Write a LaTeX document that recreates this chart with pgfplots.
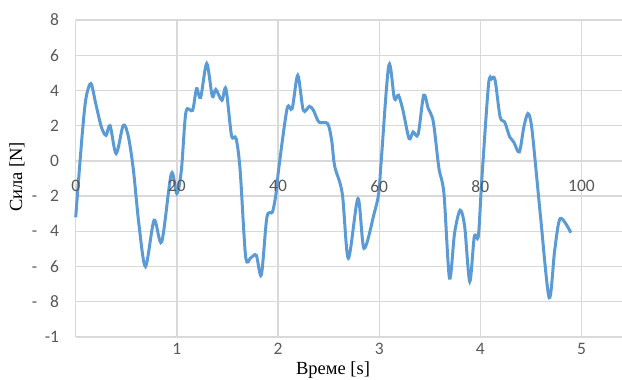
\documentclass[border=0pt]{standalone}
\usepackage{pgfplots}
\pgfplotsset{compat=1.18}
\usepackage{fontspec}
\setmainfont{Carlito}
\newfontfamily\lserif{Liberation Serif}
\definecolor{serieblue}{RGB}{91,155,213}
\definecolor{tickgray}{RGB}{89,89,89}
\definecolor{gridc}{RGB}{217,217,217}
\newcommand{\tfont}{\fontsize{17.5}{20}\selectfont}
\begin{document}
\begin{tikzpicture}
\begin{axis}[
  scale only axis, width=546.3pt, height=317pt,
  xmin=0, xmax=108, ymin=-10, ymax=8,
  axis lines=left, axis line style={-, draw=gridc, line width=1.3pt},
  grid=major, major grid style={draw=gridc, line width=1.3pt},
  xtick={20,40,60,80,100}, xticklabels={1,2,3,4,5},
  ytick={-10,-8,-6,-4,-2,0,2,4,6,8},
  yticklabels={-1,{-\hspace{13pt}8},{-\hspace{13pt}6},{-\hspace{13pt}4},{-\hspace{13pt}2},0,2,4,6,8},
  major tick length=0pt,
  tick label style={font=\tfont, text=tickgray, inner sep=0pt},
  xticklabel style={anchor=north, yshift=-6pt},
  yticklabel style={anchor=east, xshift=-16.4pt},
  clip=false,
]
\addplot[serieblue, line width=3pt, smooth, tension=0.5] coordinates {
(0,-3.2) (1.2,1.2) (2,3.5) (3,4.39) (4,3.2) (5.1,1.9) (6,1.45) (6.8,2.0) (8.0,0.41)
(9.4,2.02) (10.4,1.4) (11.4,-0.5) (12.5,-3.6) (13.8,-6.0) (15.5,-3.37) (17.0,-4.6)
(18.9,-0.73) (20.0,-1.86) (20.9,-0.5) (21.8,2.78) (23.1,2.87) (23.9,4.1) (24.7,3.6)
(25.9,5.53) (27.0,3.67) (27.7,4.05) (28.9,3.44) (29.7,4.1) (30.8,1.45) (31.7,1.27)
(32.5,-0.5) (33.6,-5.44) (34.6,-5.5) (35.7,-5.36) (36.7,-6.47) (37.8,-3.2) (38.9,-2.9)
(39.6,-1.86) (40.2,-0.3) (41.8,2.97) (42.8,2.97) (43.9,4.86) (45.0,2.87) (46.2,3.1)
(47.0,2.87) (48.1,2.2) (49.8,2.12) (50.6,1.17) (51.2,-0.3) (52.7,-1.86) (53.9,-5.53)
(55.8,-2.14) (57.0,-4.97) (59.0,-2.99) (59.9,-1.86) (60.4,0) (61.9,5.43) (63.0,3.54)
(63.8,3.73) (64.7,2.87) (65.9,1.27) (66.7,1.64) (67.7,1.51) (68.8,3.73) (69.7,2.97)
(70.7,2.21) (71.8,-0.4) (72.8,-1.86) (73.9,-6.66) (74.9,-4.1) (76.0,-2.8) (76.9,-3.74)
(77.9,-6.85) (78.8,-4.3) (79.6,-4.27) (80.3,-1.0) (81.6,4.3) (82.2,4.65) (82.9,4.6) (83.9,2.5)
(84.8,2.21) (85.8,1.36) (86.6,1.07) (87.7,0.51) (88.6,1.93) (89.4,2.69) (90.1,2.02)
(91.0,-0.5) (91.9,-3.18) (93.6,-7.77) (94.7,-5.06) (95.8,-3.27) (97.9,-4.08)
};
\node[anchor=north, inner sep=0pt, font=\tfont, text=tickgray, yshift=-19.4pt] at (axis cs:0,0) {0};
\node[anchor=north, inner sep=0pt, font=\tfont, text=tickgray, yshift=-19.4pt] at (axis cs:20,0) {20};
\node[anchor=north, inner sep=0pt, font=\tfont, text=tickgray, yshift=-19.4pt] at (axis cs:40,0) {40};
\node[anchor=north, inner sep=0pt, font=\tfont, text=tickgray, yshift=-19.4pt] at (axis cs:60,0) {60};
\node[anchor=north, inner sep=0pt, font=\tfont, text=tickgray, yshift=-19.4pt] at (axis cs:80,0) {80};
\node[anchor=north, inner sep=0pt, font=\tfont, text=tickgray, yshift=-19.4pt] at (axis cs:100,0) {100};
\end{axis}
\node[rotate=90, anchor=center, inner sep=0pt, font=\lserif\fontsize{18.5}{21}\selectfont] at (-58.7pt,160pt) {Сила [N]};
\node[anchor=base, inner sep=0pt, font=\lserif\fontsize{18.5}{21}\selectfont] at (257.3pt,-38pt) {Време [s]};
\pgfresetboundingbox
\path[use as bounding box] (-75.7pt,-43pt) rectangle (546.3pt,337pt);
\end{tikzpicture}
\end{document}
